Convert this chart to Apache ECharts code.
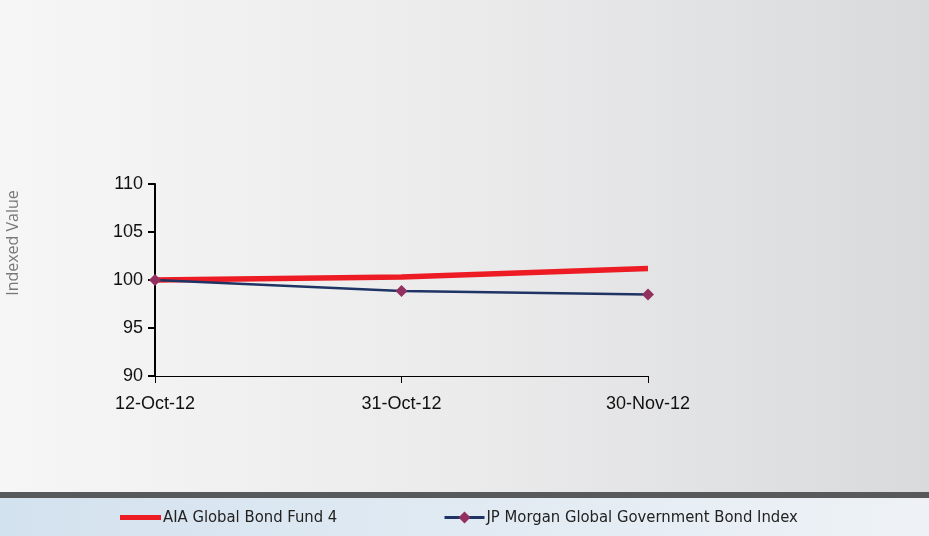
<!DOCTYPE html>
<html>
<head>
<meta charset="utf-8">
<script src="https://cdn.jsdelivr.net/npm/echarts@6/dist/echarts.min.js"></script>
<style>
  html, body { margin: 0; padding: 0; background: #fff; }
  #chart { width: 929px; height: 536px; }
</style>
</head>
<body>
<div id="chart"></div>
<script>
// Fund performance vs benchmark, indexed to 100
var dates = ['12-Oct-12', '31-Oct-12', '30-Nov-12'];
var fundValues = [100, 100.3, 101.2];
var benchmarkValues = [100, 98.85, 98.5];
var fundName = 'AIA Global Bond Fund 4';
var benchmarkName = 'JP Morgan Global Government Bond Index';
var yTicks = { min: 90, max: 110, step: 5 };

var legendFont = {
  fontFamily: '"Liberation Sans Narrow", "DejaVu Sans Condensed", sans-serif',
  fontSize: 16.5,
  color: '#222',
  padding: [0, 0, 0, -3]
};

var chart = echarts.init(document.getElementById('chart'), null, { renderer: 'canvas' });

chart.setOption({
  animation: false,
  backgroundColor: 'transparent',
  graphic: [
    {
      type: 'rect', z: -10, silent: true,
      shape: { x: 0, y: 0, width: 929, height: 493 },
      style: {
        fill: new echarts.graphic.LinearGradient(0, 0, 1, 0, [
          { offset: 0, color: '#f6f6f6' },
          { offset: 0.5, color: '#ebebec' },
          { offset: 1, color: '#d9dadc' }
        ])
      }
    },
    {
      type: 'rect', z: -10, silent: true,
      shape: { x: 0, y: 492, width: 929, height: 6 },
      style: { fill: '#58595b' }
    },
    {
      type: 'rect', z: -10, silent: true,
      shape: { x: 0, y: 498, width: 929, height: 38 },
      style: {
        fill: new echarts.graphic.LinearGradient(0, 0, 1, 0, [
          { offset: 0, color: '#d3e2ef' },
          { offset: 1, color: '#eef2f6' }
        ])
      }
    },
    {
      type: 'text', silent: true,
      x: 5, y: 243, rotation: Math.PI / 2,
      style: {
        text: 'Indexed Value',
        fill: '#787878',
        font: '16px "Open Sans", "DejaVu Sans", sans-serif',
        align: 'center',
        verticalAlign: 'top'
      }
    }
  ],
  grid: { left: 155, right: 281, top: 184, bottom: 160, containLabel: false },
  legend: [
    {
      top: 509,
      left: 120,
      padding: 0,
      itemWidth: 41,
      itemHeight: 5,
      icon: 'rect',
      textStyle: legendFont,
      data: [{ name: fundName, itemStyle: { color: '#ed1c24' } }]
    },
    {
      top: 509,
      left: 443,
      padding: 0,
      itemWidth: 40,
      itemHeight: 15,
      textStyle: legendFont,
      data: [{ name: benchmarkName, lineStyle: { width: 3 } }]
    }
  ],
  xAxis: {
    type: 'category',
    data: dates,
    boundaryGap: false,
    axisLine: { lineStyle: { color: '#000', width: 1 } },
    axisTick: { show: true, alignWithLabel: true, length: 7, lineStyle: { color: '#000' } },
    axisLabel: {
      color: '#111', fontSize: 18, margin: 19,
      fontFamily: '"Liberation Sans", Arial, sans-serif'
    },
    splitLine: { show: false }
  },
  yAxis: {
    type: 'value',
    min: yTicks.min,
    max: yTicks.max,
    interval: yTicks.step,
    axisLine: { show: true, lineStyle: { color: '#000', width: 2 } },
    axisTick: { show: true, length: 7, lineStyle: { color: '#000', width: 2 } },
    axisLabel: {
      color: '#111', fontSize: 18, margin: 12,
      fontFamily: '"Liberation Sans", Arial, sans-serif'
    },
    splitLine: { show: false }
  },
  series: [
    {
      name: fundName,
      type: 'line',
      data: fundValues,
      showSymbol: false,
      symbol: 'none',
      lineStyle: { color: '#ed1c24', width: 5.5 },
      itemStyle: { color: '#ed1c24' },
      z: 2
    },
    {
      name: benchmarkName,
      type: 'line',
      data: benchmarkValues,
      symbol: 'diamond',
      symbolSize: 12,
      lineStyle: { color: '#1f3464', width: 2.5 },
      itemStyle: { color: '#923060', borderWidth: 0 },
      z: 3
    }
  ]
});
</script>
</body>
</html>
